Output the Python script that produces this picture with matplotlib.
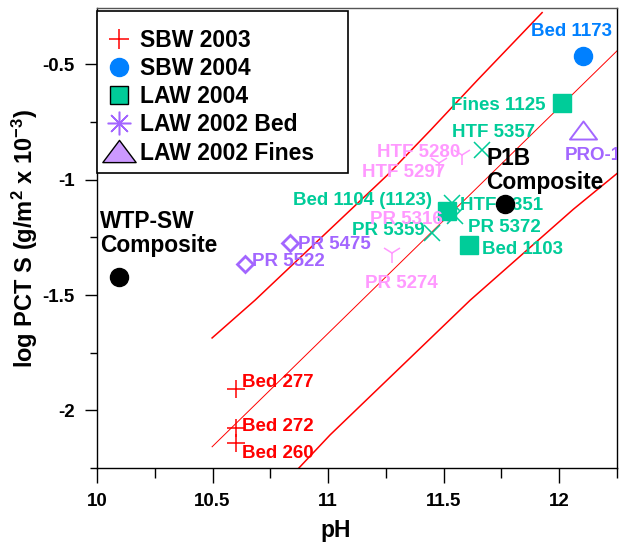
import matplotlib
matplotlib.use("Agg")
import matplotlib.pyplot as plt
from matplotlib.lines import Line2D
from matplotlib.patches import Rectangle
from matplotlib.path import Path
from matplotlib.ticker import MultipleLocator

plt.rcParams['font.family'] = ['Liberation Sans', 'DejaVu Sans']
plt.rcParams['font.weight'] = 'bold'
plt.rcParams['axes.unicode_minus'] = False
plt.rcParams['mathtext.fontset'] = 'custom'
plt.rcParams['mathtext.rm'] = 'Liberation Sans:bold'
plt.rcParams['mathtext.bf'] = 'Liberation Sans:bold'
plt.rcParams['mathtext.it'] = 'Liberation Sans:bold'
plt.rcParams['mathtext.default'] = 'bf'

# ---------------- data ----------------
sbw2003_ph = [10.602, 10.602, 10.602]
sbw2003_logs = [-1.907, -2.076, -2.141]
sbw2003_names = ['Bed 277', 'Bed 272', 'Bed 260']

sbw2004_ph = [12.104]
sbw2004_logs = [-0.465]
sbw2004_names = ['Bed 1173']

law2004_ph = [12.013, 11.515, 11.610]
law2004_logs = [-0.665, -1.136, -1.284]
law2004_names = ['Fines 1125', 'Bed 1104 (1123)', 'Bed 1103']

law2002_green_ph = [11.667, 11.537, 11.550, 11.450]
law2002_green_logs = [-0.872, -1.102, -1.158, -1.232]
law2002_green_names = ['HTF 5357', 'HTF 5351', 'PR 5372', 'PR 5359']

law2002_pink_ph = [11.580, 11.481, 11.520, 11.277]
law2002_pink_logs = [-0.894, -0.929, -1.150, -1.318]
law2002_pink_names = ['HTF 5280', 'HTF 5297', 'PR 5316', 'PR 5274']

law2002_purple_ph = [10.835, 10.641]
law2002_purple_logs = [-1.275, -1.366]
law2002_purple_names = ['PR 5475', 'PR 5522']

law2002_fines_ph = [12.104]
law2002_fines_logs = [-0.786]
law2002_fines_names = ['PRO-1']

composite_ph = [10.095, 11.766]
composite_logs = [-1.422, -1.106]
composite_names = ['WTP-SW\nComposite', 'P1B\nComposite']

upper_ph = [10.498, 10.684, 11.009, 11.255, 11.442, 11.645, 11.926]
upper_logs = [-1.686, -1.522, -1.214, -0.981, -0.786, -0.569, -0.275]
fit_ph = [10.498, 12.251]
fit_logs = [-2.158, -0.440]
lower_ph = [10.866, 11.009, 11.615, 12.061, 12.251]
lower_logs = [-2.258, -2.106, -1.522, -1.128, -0.972]

legend_labels = ['SBW 2003', 'SBW 2004', 'LAW 2004', 'LAW 2002 Bed', 'LAW 2002 Fines']
x_ticks = [10, 10.5, 11, 11.5, 12]
y_ticks = [-2, -1.5, -1, -0.5]

# ---------------- style ----------------
RED = '#FF0000'
BLUE = '#0080FF'
GREEN = '#00CC99'
PINK = '#FF99FF'
PURPLE = '#A366FF'
TRI_FILL = '#CC99FF'

wide_tri = Path([(-1.5, -1.0), (1.5, -1.0), (0.0, 1.0), (-1.5, -1.0)],
                [Path.MOVETO, Path.LINETO, Path.LINETO, Path.CLOSEPOLY])

W, H = 619, 544
fig = plt.figure(figsize=(W / 100, H / 100), dpi=100)
ax_l, ax_r, ax_t, ax_b = 97, 617, 8, 468
ax = fig.add_axes([ax_l / W, (H - ax_b) / H, (ax_r - ax_l) / W, (ax_b - ax_t) / H])
ax.set_xlim(10, 12.25)
ax.set_ylim(-2.25, -0.255)

# regression / band lines
ax.plot(upper_ph, upper_logs, color=RED, lw=1.1, zorder=2)
ax.plot(fit_ph, fit_logs, color=RED, lw=0.7, zorder=2)
ax.plot(lower_ph, lower_logs, color=RED, lw=1.1, zorder=2)

# markers
ax.plot(sbw2003_ph, sbw2003_logs, ls='none', marker='+', ms=13, mew=1.1, color=RED, zorder=4)
ax.plot(sbw2004_ph, sbw2004_logs, ls='none', marker='o', ms=13, color=BLUE, mec=BLUE, zorder=4)
ax.plot(law2002_pink_ph, law2002_pink_logs, ls='none', marker='1', ms=15, mew=1.1, color=PINK, zorder=3)
ax.plot(law2004_ph, law2004_logs, ls='none', marker='s', ms=12.5, color=GREEN, mec=GREEN, zorder=4)
ax.plot(law2002_green_ph, law2002_green_logs, ls='none', marker='x', ms=12, mew=1.1, color=GREEN, zorder=5)
ax.plot(law2002_purple_ph, law2002_purple_logs, ls='none', marker='D', ms=8, mew=2,
        mfc='none', mec=PURPLE, zorder=4)
ax.plot(law2002_fines_ph, law2002_fines_logs, ls='none', marker=wide_tri, ms=19.5, mew=1.4,
        mfc='none', mec=PURPLE, zorder=4)
ax.plot(composite_ph, composite_logs, ls='none', marker='o', ms=13, color='black', zorder=8)

# point labels: offsets (px) from marker, converted to points
def label(names, xs, ys, offsets, color, size=13.5):
    for i, (n, x, y) in enumerate(zip(names, xs, ys)):
        dx, dy, ha = offsets[i]
        ax.annotate(n, (x, y), xytext=(dx * 0.72, dy * 0.72), textcoords='offset points',
                    ha=ha, va='center', color=color, fontsize=size, fontweight='bold',
                    clip_on=True, zorder=6, linespacing=1.05)

label(sbw2003_names, sbw2003_ph, sbw2003_logs,
      [(6, 6, 'left'), (6, 1, 'left'), (6, -11, 'left')], RED)
label(sbw2004_names, sbw2004_ph, sbw2004_logs, [(-52, 25, 'left')], BLUE)
label(law2004_names, law2004_ph, law2004_logs,
      [(-17, -3, 'right'), (-15, 11, 'right'), (13, -4, 'left')], GREEN)
label(law2002_green_names, law2002_green_ph, law2002_green_logs,
      [(11, 18, 'center'), (8, -2, 'left'), (13, -11, 'left'), (-7, 3, 'right')], GREEN)
label(law2002_pink_names, law2002_pink_ph, law2002_pink_logs,
      [(-2, 3, 'right'), (6, -9, 'right'), (-6, -5, 'right'), (9, -30, 'center')], PINK)
label(law2002_purple_names, law2002_purple_ph, law2002_purple_logs,
      [(8, -1, 'left'), (7, 3, 'left')], PURPLE)
label(law2002_fines_names, law2002_fines_ph, law2002_fines_logs, [(-19, -25, 'left')], PURPLE)
label(composite_names, composite_ph, composite_logs,
      [(-19, 44, 'left'), (-19, 34, 'left')], 'black', size=16.4)

# axes styling
ax.set_xticks(x_ticks)
ax.set_xticklabels([f'{v:g}' for v in x_ticks])
ax.set_yticks(y_ticks)
ax.set_yticklabels([f'{v:g}' for v in y_ticks])
ax.xaxis.set_minor_locator(MultipleLocator(0.25))
ax.yaxis.set_minor_locator(MultipleLocator(0.25))
ax.tick_params(axis='x', which='major', direction='out', length=11, width=1, pad=7, labelsize=13.5)
ax.tick_params(axis='x', which='minor', direction='out', length=7, width=1)
ax.tick_params(axis='y', which='major', direction='out', length=9, width=1, pad=7, labelsize=13.5)
ax.tick_params(axis='y', which='minor', direction='out', length=5, width=1)
for lab in ax.get_xticklabels() + ax.get_yticklabels():
    lab.set_fontweight('bold')
for s in ['left', 'bottom', 'right']:
    ax.spines[s].set_linewidth(1.0)
    ax.spines[s].set_color('black')
ax.spines['top'].set_linewidth(1.0)
ax.spines['top'].set_color('#555555')

ax.set_xlabel('pH', fontsize=16.5, fontweight='bold')
ax.xaxis.set_label_coords((336 - ax_l) / (ax_r - ax_l), (ax_b - 531) / (ax_b - ax_t))
ax.xaxis.label.set_va('center')
ax.set_ylabel(r'log PCT S (g/m$^{2}$ x 10$^{-3}$)', fontsize=17, fontweight='bold')
ax.yaxis.set_label_coords((25 - ax_l) / (ax_r - ax_l), 0.5)
ax.yaxis.label.set_va('center')

# legend box (drawn manually) and legend entries
lx0, ly0, lx1, ly1 = 97, 11, 348, 173
fig.patches.append(Rectangle((lx0 / W, (H - ly1) / H), (lx1 - lx0) / W, (ly1 - ly0) / H,
                             transform=fig.transFigure, facecolor='white',
                             edgecolor='black', lw=1.2, zorder=10))
handles = [
    Line2D([], [], ls='none', marker='+', ms=15, mew=1.1, color=RED),
    Line2D([], [], ls='none', marker='o', ms=13, color=BLUE),
    Line2D([], [], ls='none', marker='s', ms=12.5, mfc=GREEN, mec='black', mew=1.0),
    Line2D([], [], ls='none', marker=(8, 2, 0), ms=17, mew=1.1, color=PURPLE),
    Line2D([], [], ls='none', marker=wide_tri, ms=24, mfc=TRI_FILL, mec='black', mew=1.0),
]
leg = fig.legend(handles, legend_labels, loc='upper left',
                 bbox_to_anchor=(lx0 / W, (H - ly0) / H), bbox_transform=fig.transFigure,
                 frameon=False, borderaxespad=0, borderpad=0.8, handlelength=0.3,
                 handletextpad=0.78, labelspacing=0.22, numpoints=1,
                 prop={'size': 16.5, 'weight': 'bold'})
leg.set_zorder(11)

fig.savefig('out.png', dpi=100)
